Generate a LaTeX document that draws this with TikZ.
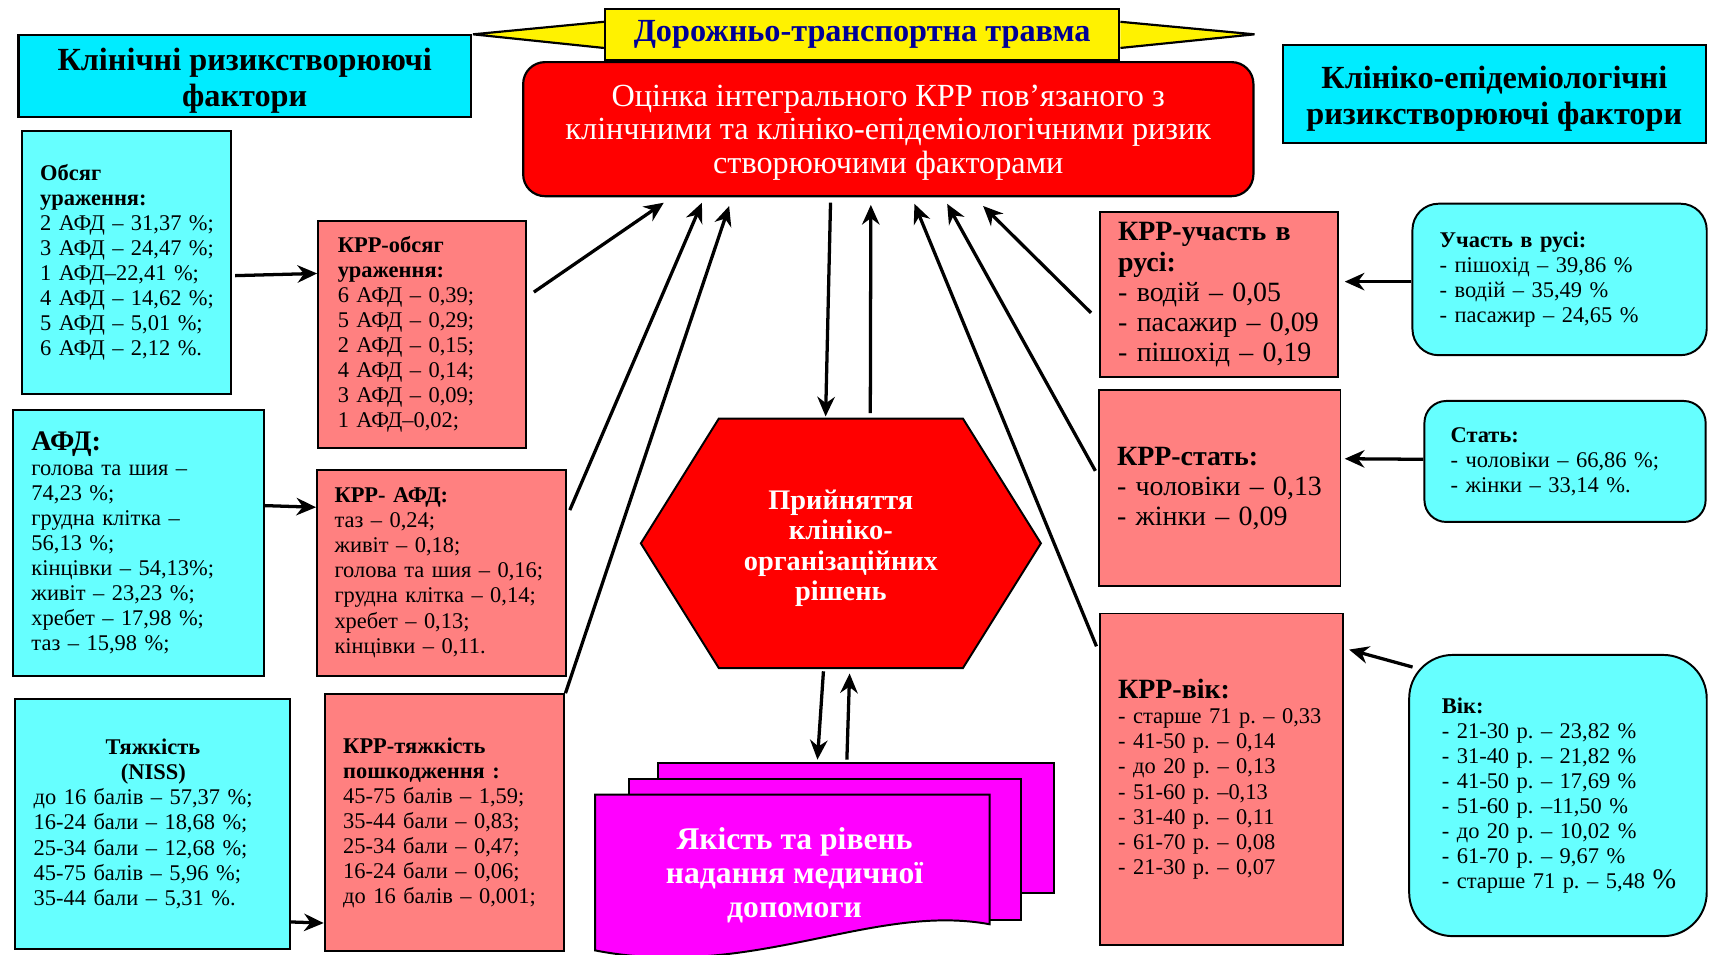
\documentclass[tikz,border=0pt]{standalone}
\usepackage{fontspec}
\setmainfont{Liberation Serif}
\AtBeginDocument{\XeTeXdashbreakstate=0}
\usetikzlibrary{calc, positioning, arrows.meta, shapes.symbols, backgrounds}

\definecolor{titlecyan}{RGB}{0,236,255}
\definecolor{datacyan}{RGB}{102,255,255}
\definecolor{krrpink}{RGB}{255,128,128}
\definecolor{mainred}{RGB}{255,0,0}
\definecolor{docmagenta}{RGB}{255,0,255}
\definecolor{bannernavy}{RGB}{0,0,150}

\tikzset{
    titlebox/.style={rectangle, draw=black, line width=1pt, fill=titlecyan, align=center, inner sep=0pt, text height=31.3pt, font=\bfseries\fontsize{14.8}{16.5}\selectfont},
    banner/.style={rectangle, draw=black, line width=1pt, fill=yellow, minimum width=236pt, minimum height=23.5pt, inner sep=0pt, text=bannernavy, font=\bfseries\fontsize{14.8}{16}\selectfont},
    mainbox/.style={rectangle, rounded corners=10pt, draw=black, line width=1pt, fill=mainred, text=white, align=center, inner sep=0pt, text height=44pt, font=\fontsize{14.8}{15.5}\selectfont},
    databox/.style={rectangle, draw=black, line width=0.9pt, fill=datacyan, anchor=north west, align=left, inner ysep=0pt, inner xsep=8.5pt, font=\fontsize{10.3}{11.5}\selectfont, execute at begin node={\exhyphenpenalty=10000\hyphenpenalty=10000}},
    krrbox/.style={databox, fill=krrpink},
    roundbox/.style={databox, rounded corners=12pt},
    decision/.style={signal, signal to=east and west, signal pointer angle=116, draw=black, line width=0.9pt, fill=mainred, text=white, align=center, inner sep=0pt, text height=55.5pt, font=\bfseries\fontsize{13}{14}\selectfont},
    docpage/.style={rectangle, draw=black, line width=0.9pt, fill=docmagenta, anchor=north west, inner sep=0pt},
    doctext/.style={text=white, align=center, inner sep=0pt, font=\bfseries\fontsize{14.5}{15.75}\selectfont},
    arrow/.style={-{Stealth[length=9pt, width=8pt]}, line width=1.5pt}
}

\begin{document}
\begin{tikzpicture}[x=0.5pt, y=-0.5pt]
    \useasboundingbox (0,0) rectangle (1568,876);

    % Titles
    \node[titlebox, minimum width=207.5pt, minimum height=37.5pt] (clinTitle) at (224.5,69.5) {Клінічні ризикстворюючі\\фактори};
    \node[titlebox, minimum width=194pt, minimum height=45pt] (epidTitle) at (1371,86) {Клініко-епідеміологічні\\ризикстворюючі фактори};
    \node[banner] (dtt) at (791,31.5) {Дорожньо-транспортна травма};

    % Integral assessment
    \node[mainbox, minimum width=335pt, minimum height=61.5pt] (otsinka) at (815,118.5) {Оцінка інтегрального КРР пов’язаного з\\клінчними та клініко-епідеміологічними ризик\\створюючими факторами};

    % Clinical factors
    \node[databox, text width=79pt, minimum height=121pt] (obsyag) at (19,119) {\textbf{Обсяг}\\\textbf{ураження:}\\2~АФД~–~31,37~\%;\\3~АФД~–~24,47~\%;\\1~АФД–22,41~\%;\\4~АФД~–~14,62~\%;\\5~АФД~–~5,01~\%;\\6~АФД~–~2,12~\%.};
    \node[databox, text width=98pt, minimum height=122pt] (afd) at (11,375) {{\fontsize{13}{14}\selectfont\textbf{АФД:}}\\голова та шия –\\74,23~\%;\\грудна клітка –\\56,13~\%;\\кінцівки~–~54,13\%;\\живіт~–~23,23~\%;\\хребет~–~17,98~\%;\\таз~–~15,98~\%;};
    \node[databox, text width=109pt, minimum height=115pt] (niss) at (13,640) {\hspace*{33pt}\textbf{Тяжкість}\\\hspace*{40pt}\textbf{(NISS)}\\до~16~балів~–~57,37~\%;\\16-24~бали~–~18,68~\%;\\25-34~бали~–~12,68~\%;\\45-75~балів~–~5,96~\%;\\35-44~бали~–~5,31~\%.};

    \node[krrbox, inner xsep=9pt, text width=77.5pt, minimum height=104pt] (krrObs) at (291,202) {\textbf{КРР-обсяг}\\\textbf{ураження:}\\6~АФД~–~0,39;\\5~АФД~–~0,29;\\2~АФД~–~0,15;\\4~АФД~–~0,14;\\3~АФД~–~0,09;\\1~АФД–0,02;};
    \node[krrbox, inner xsep=8pt, text width=98pt, minimum height=94.5pt] (krrAfd) at (290,430) {\textbf{КРР-~АФД:}\\таз~–~0,24;\\живіт~–~0,18;\\голова~та~шия~–~0,16;\\грудна~клітка~–~0,14;\\хребет~–~0,13;\\кінцівки~–~0,11.};
    \node[krrbox, text width=93pt, minimum height=118pt] (krrNiss) at (297,636) {\textbf{КРР-тяжкість}\\\textbf{пошкодження :}\\45-75~балів~–~1,59;\\35-44~бали~–~0,83;\\25-34~бали~–~0,47;\\16-24~бали~–~0,06;\\до~16~балів~–~0,001;};

    % Clinical-epidemiological factors
    \node[krrbox, text width=92.5pt, minimum height=75.5pt, font=\fontsize{12.8}{13.8}\selectfont] (krrRuh) at (1008,194) {\textbf{КРР-участь в}\\\textbf{русі:}\\-~водій~–~0,05\\-~пасажир~–~0,09\\-~пішохід~–~0,19};
    \node[krrbox, text width=94pt, minimum height=90pt, font=\fontsize{12.8}{13.8}\selectfont] (krrSex) at (1007,357) {\textbf{КРР-стать:}\\-~чоловіки~–~0,13\\-~жінки~–~0,09};
    \node[krrbox, text width=94.5pt, minimum height=152pt] (krrAge) at (1008,562) {{\fontsize{12.8}{13.8}\selectfont\textbf{КРР-вік:}}\\-~старше~71~р.~–~0,33\\-~41-50~р.~–~0,14\\-~до~20~р.~–~0,13\\-~51-60~р.~–0,13\\-~31-40~р.~–~0,11\\-~61-70~р.~–~0,08\\-~21-30~р.~–~0,07};

    \node[roundbox, inner xsep=12.5pt, text width=110pt, minimum height=69.5pt] (ruh) at (1295,186) {\textbf{Участь в русі:}\\-~пішохід~–~39,86~\%\\-~водій~–~35,49~\%\\-~пасажир~–~24,65~\%};
    \node[roundbox, rounded corners=10pt, inner xsep=12pt, text width=105pt, minimum height=55.5pt] (sex) at (1306,367) {\textbf{Стать:}\\-~чоловіки~–~66,86~\%;\\-~жінки~–~33,14~\%.};
    \node[roundbox, rounded corners=20pt, inner xsep=15pt, text width=106.5pt, minimum height=129pt] (age) at (1292,600) {\textbf{Вік:}\\-~21-30~р.~–~23,82~\%\\-~31-40~р.~–~21,82~\%\\-~41-50~р.~–~17,69~\%\\-~51-60~р.~–11,50~\%\\-~до~20~р.~–~10,02~\%\\-~61-70~р.~–~9,67~\%\\-~старше~71~р.~–~5,48~{\fontsize{13}{13}\selectfont\%}};

    % Decisions and quality of care
    \node[decision, minimum width=183.5pt, minimum height=114.5pt] (hex) at (771.5,498.5) {Прийняття\\клініко-\\організаційних\\рішень};

    \node[docpage, minimum width=181.5pt, minimum height=59.5pt] (docBack) at (603,699) {};
    \node[docpage, minimum width=180pt, minimum height=64.5pt] (docMid) at (576,714) {};
    \filldraw[fill=docmagenta, line width=0.9pt] (546,729) -- (908,729) -- (908,848) .. controls (800,828) and (690,900) .. (546,872) -- cycle;
    \node[doctext] (yakist) at (729,803) {Якість та рівень\\надання медичної\\допомоги};

    % Banner wings
    \begin{scope}[on background layer]
        \fill[white] (0,0) rectangle (1568,876);
        \filldraw[fill=yellow, line width=1pt] ($(dtt.west)+(0,-11.5)$) -- ($(dtt.west)+(-120,0)$) -- ($(dtt.west)+(0,12.5)$);
        \filldraw[fill=yellow, line width=1pt] ($(dtt.east)+(0,-11.5)$) -- ($(dtt.east)+(123,0)$) -- ($(dtt.east)+(0,12.5)$);
    \end{scope}

    % Connections
    \draw[arrow] ($(obsyag.east)+(3,12)$) -- ($(krrObs.west)+(0,-56)$);
    \draw[arrow] ($(afd.east)+(0,-34)$) -- ($(krrAfd.west)+(0,-60)$);
    \draw[arrow] ($(niss.east)+(0,90)$) -- ($(krrNiss.west)+(0,92)$);
    \draw[arrow] ($(ruh.west)+(0,2)$) -- ($(krrRuh.east)+(5,-12)$);
    \draw[arrow] ($(sex.west)+(0,-2)$) -- ($(krrSex.east)+(3,-27)$);
    \draw[arrow] ($(age.north west)+(4,12)$) -- ($(krrAge.north east)+(5,34)$);

    \draw[arrow] ($(krrObs.north east)+(6,66)$) -- ($(otsinka.south west)+(130,5)$);
    \draw[arrow] ($(krrAfd.north east)+(3,38)$) -- ($(otsinka.south west)+(165,5)$);
    \draw[arrow] (krrNiss.north east) -- ($(otsinka.south west)+(190,8)$);
    \draw[arrow] ($(otsinka.south west)+(283,5)$) -- ($(hex.north)+(-14,-1)$);
    \draw[arrow] ($(hex.north)+(27,-4)$) -- ($(otsinka.south west)+(320,7)$);
    \draw[arrow] ($(krrAge.north west)+(-2,31)$) -- ($(otsinka.south west)+(360,6)$);
    \draw[arrow] ($(krrSex.north west)+(-2,75)$) -- ($(otsinka.south west)+(390,6)$);
    \draw[arrow] ($(krrRuh.north west)+(-7,93)$) -- ($(otsinka.south west)+(423,8)$);

    \draw[arrow] ($(hex.south)+(-16,2)$) -- ($(docBack.north west)+(147,-2)$);
    \draw[arrow] ($(docBack.north west)+(174,-2)$) -- ($(hex.south)+(8,4)$);
\end{tikzpicture}
\end{document}
